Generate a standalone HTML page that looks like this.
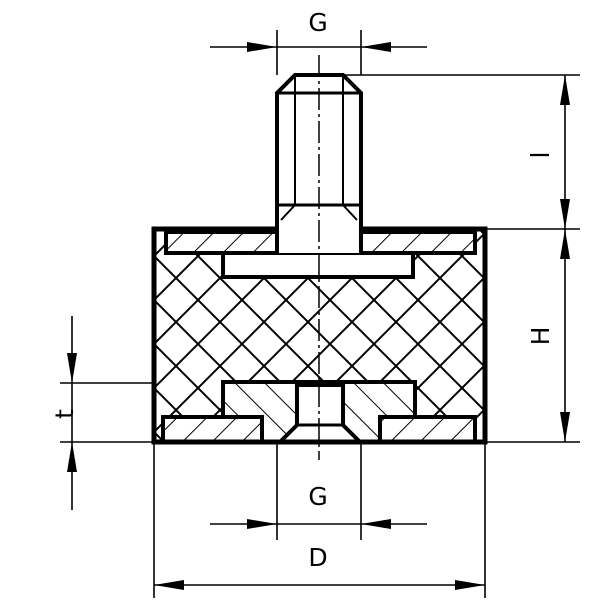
<!DOCTYPE html>
<html><head><style>html,body{margin:0;padding:0;background:#fff}svg{display:block}</style></head>
<body>
<svg width="600" height="600" viewBox="0 0 600 600" xmlns="http://www.w3.org/2000/svg">
<defs>
<pattern id="cross" width="44" height="44" patternUnits="userSpaceOnUse" x="154" y="256">
<path d="M0,0 L44,44 M44,0 L0,44 M-22,22 L0,44 M22,-22 L66,22 M22,66 L66,22 M-22,22 L22,-22" stroke="#000" stroke-width="2" fill="none"/>
</pattern>
<pattern id="h1" width="21" height="21" patternUnits="userSpaceOnUse" patternTransform="rotate(45)">
<line x1="0" y1="0" x2="0" y2="21" stroke="#000" stroke-width="2"/>
</pattern>
<pattern id="h2" width="21" height="21" patternUnits="userSpaceOnUse" patternTransform="rotate(-45)">
<line x1="0" y1="0" x2="0" y2="21" stroke="#000" stroke-width="2"/>
</pattern>
</defs>
<g fill="none" stroke="#000" stroke-width="2">
<rect x="154" y="229" width="331" height="213" fill="url(#cross)" stroke="none"/>
<!-- top plate -->
<rect x="166" y="232" width="309" height="21" fill="#fff" stroke="none"/>
<rect x="166" y="232" width="309" height="21" fill="url(#h1)" stroke-width="4"/>
<rect x="223" y="253" width="190" height="24" fill="#fff" stroke-width="4"/>
<!-- stud -->
<path d="M277,253 L277,93 L295,75 L343,75 L361,93 L361,253" fill="#fff" stroke-width="4"/>
<line x1="277" y1="93" x2="361" y2="93" stroke-width="3"/>
<line x1="295" y1="75" x2="295" y2="205"/>
<line x1="343" y1="75" x2="343" y2="205"/>
<line x1="277" y1="205" x2="361" y2="205" stroke-width="3"/>
<line x1="295" y1="205" x2="281" y2="220"/>
<line x1="343" y1="205" x2="357" y2="220"/>
<!-- bottom insert -->
<rect x="223" y="382" width="192" height="60" fill="#fff" stroke="none"/>
<rect x="223" y="382" width="192" height="60" fill="url(#h2)" stroke-width="4"/>
<rect x="163" y="417" width="99" height="25" fill="#fff" stroke-width="4"/>
<rect x="163" y="417" width="99" height="25" fill="url(#h1)" stroke="none"/>
<rect x="380" y="417" width="95" height="25" fill="#fff" stroke-width="4"/>
<rect x="380" y="417" width="95" height="25" fill="url(#h1)" stroke="none"/>
<path d="M297,385 L343,385 L343,425 L360,442 L280,442 L297,425 Z" fill="#fff" stroke-width="4"/>
<line x1="297" y1="425" x2="343" y2="425" stroke-width="3"/>
<!-- body outline -->
<rect x="154" y="229" width="331" height="213" stroke-width="5"/>
<rect x="279" y="226" width="80" height="6" fill="#fff" stroke="none"/>
<line x1="319" y1="55" x2="319" y2="460" stroke-dasharray="22,4,3,4" stroke-width="1.5"/>
<g stroke-width="1.6">
<line x1="277" y1="30" x2="277" y2="75"/><line x1="361" y1="30" x2="361" y2="75"/>
<line x1="210" y1="47" x2="427" y2="47"/>
<line x1="345" y1="75" x2="580" y2="75"/>
<line x1="485" y1="229" x2="580" y2="229"/>
<line x1="485" y1="442" x2="580" y2="442"/>
<line x1="565" y1="75" x2="565" y2="442"/>
<line x1="60" y1="383" x2="154" y2="383"/>
<line x1="60" y1="442" x2="154" y2="442"/>
<line x1="72" y1="316" x2="72" y2="510"/>
<line x1="277" y1="442" x2="277" y2="540"/><line x1="361" y1="442" x2="361" y2="540"/>
<line x1="210" y1="524" x2="427" y2="524"/>
<line x1="154" y1="442" x2="154" y2="598"/><line x1="485" y1="442" x2="485" y2="598"/>
<line x1="154" y1="585" x2="485" y2="585"/>
</g>
</g>
<g fill="#000">
<polygon points="277,47 247,42 247,52"/><polygon points="361,47 391,42 391,52"/>
<polygon points="277,524 247,519 247,529"/><polygon points="361,524 391,519 391,529"/>
<polygon points="154,585 184,580 184,590"/><polygon points="485,585 455,580 455,590"/>
<polygon points="565,75 560,105 570,105"/><polygon points="565,229 560,199 570,199"/>
<polygon points="565,229 560,259 570,259"/><polygon points="565,442 560,412 570,412"/>
<polygon points="72,383 67,353 77,353"/><polygon points="72,442 67,472 77,472"/>
</g>
<g font-family="DejaVu Sans, sans-serif" font-size="25" fill="#000" text-anchor="middle">
<text x="318" y="31">G</text>
<text x="318" y="505">G</text>
<text x="318" y="566">D</text>
<text transform="translate(549,155) rotate(-90)">l</text>
<text transform="translate(549,336) rotate(-90)">H</text>
<text transform="translate(73,414) rotate(-90)">t</text>
</g>
</svg>
</body></html>
